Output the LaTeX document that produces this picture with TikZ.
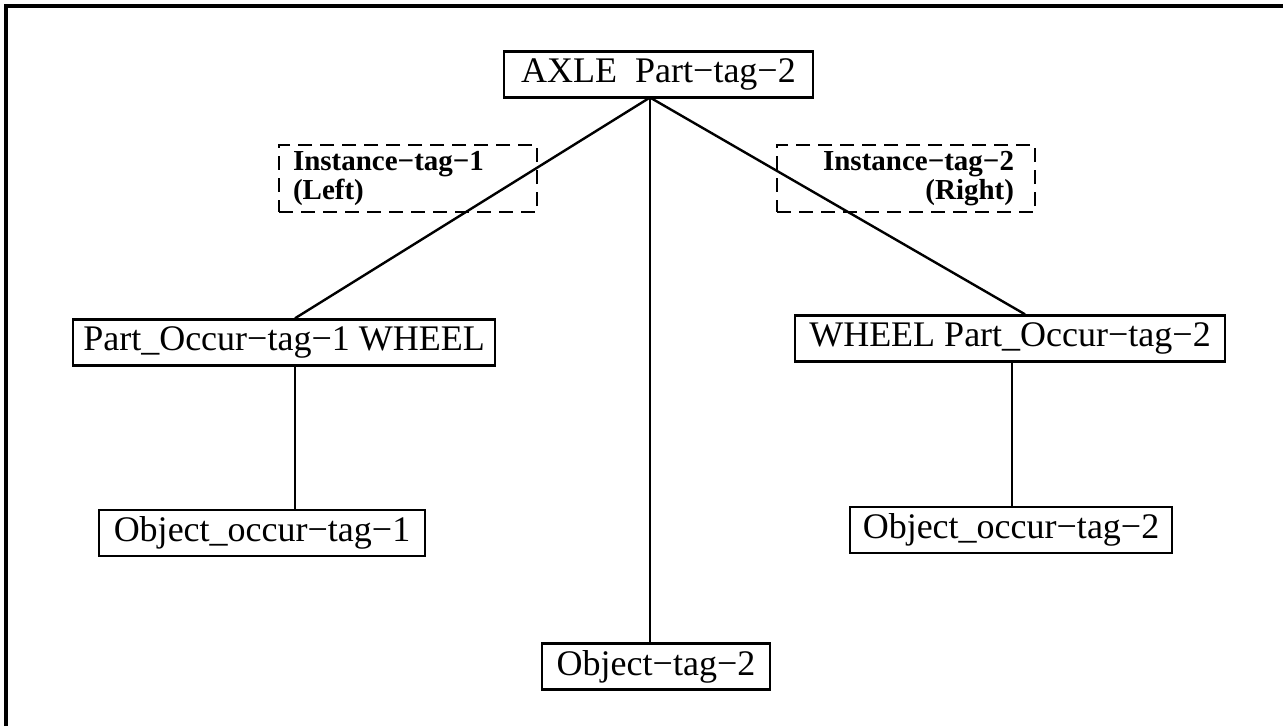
\documentclass[tikz,border=0pt]{standalone}
\usepackage{fontspec}
\setmainfont{Liberation Serif}
\begin{document}
\begin{tikzpicture}[x=1pt,y=-1pt,
  box/.style={draw,line width=2.4pt,inner sep=0pt,minimum height=46pt,
    font=\fontsize{36}{40}\selectfont},
  tagbox/.style={draw,line width=2.4pt,dash pattern=on 14pt off 8pt,inner ysep=0pt,
    minimum width=258pt,minimum height=67pt,
    font=\fontsize{29}{29}\selectfont\bfseries},
  link/.style={line width=2.4pt}]
\useasboundingbox (0,0) rectangle (1283,726);
\draw[line width=3.5pt] (6,726) -- (6,6) -- (1290,6);
\node[box,minimum width=309pt] (axle) at (658.5,74.5) {AXLE\hspace{0.5em}Part−tag−2};
\node[tagbox,inner xsep=14pt,text width=230pt,align=left] (inst1) at (408,178.5) {Instance−tag−1\\(Left)};
\node[tagbox,inner xsep=21pt,text width=216pt,align=right] (inst2) at (906,178.5) {Instance−tag−2\\(Right)};
\node[box,minimum width=422pt] (part1) at (284,342.5) {Part\_Occur−tag−1 WHEEL};
\node[box,minimum width=430pt] (part2) at (1010,338.5) {WHEEL Part\_Occur−tag−2};
\node[box,minimum width=326pt] (obj1) at (262,533) {Object\_occur−tag−1};
\node[box,minimum width=322pt] (obj2) at (1011,530) {Object\_occur−tag−2};
\node[box,minimum width=228pt] (objt) at (656,666.5) {Object−tag−2};
\coordinate (hub) at (650,97.5);
\coordinate (xa) at (295,0);
\coordinate (xb) at (1025,0);
\coordinate (xc) at (650,0);
\coordinate (xd) at (1012,0);
\draw[link] (hub) -- (part1.north -| xa);
\draw[link] (hub) -- (part2.north -| xb);
\draw[link] (hub) -- (objt.north -| xc);
\draw[link] (part1.south -| xa) -- (obj1.north -| xa);
\draw[link] (part2.south -| xd) -- (obj2.north -| xd);
\end{tikzpicture}
\end{document}
